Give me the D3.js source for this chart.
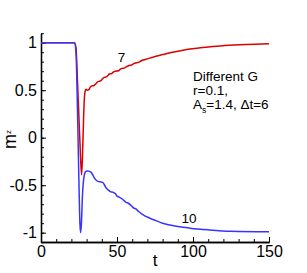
<!DOCTYPE html>
<html>
<head>
<meta charset="utf-8">
<script src="https://cdn.jsdelivr.net/npm/d3@7"></script>
<style>
  body { margin: 0; background: #fff; }
  svg { display: block; font-family: "Liberation Sans", Arial, Helvetica, sans-serif; }
</style>
</head>
<body>
<svg id="chart" width="307" height="273"></svg>
<script>
// data
var tRed  = [0, 22, 23, 24, 25, 26, 26.7, 27.3, 28, 28.7, 29.5, 30.5, 31.5, 32.5, 33.5, 35, 36, 37, 38.5, 39.5, 40.5, 41.5, 43, 44, 45, 46.5, 47.5, 49, 51, 52, 53.5, 55, 56.5, 58, 59.5, 61, 63, 64.5, 66, 68, 70, 72, 75, 80, 85, 90, 98, 105, 110, 121, 135, 150];
var mzRed = [1, 1, 0.95, 0.6, 0.2, -0.2, -0.39, -0.2, 0.2, 0.45, 0.51, 0.5, 0.505, 0.535, 0.545, 0.55, 0.565, 0.585, 0.595, 0.6, 0.62, 0.635, 0.64, 0.655, 0.67, 0.675, 0.69, 0.7, 0.705, 0.72, 0.73, 0.735, 0.75, 0.76, 0.765, 0.78, 0.79, 0.795, 0.81, 0.82, 0.83, 0.84, 0.855, 0.875, 0.895, 0.91, 0.934, 0.948, 0.955, 0.97, 0.982, 0.99];

var tBlue  = [0, 22, 23, 24, 25, 25.6, 26.1, 26.6, 27.3, 28.2, 29.2, 30.3, 31.5, 33, 34, 35, 36.5, 37.5, 39, 40.5, 41.5, 42.5, 43.5, 45, 46, 47.5, 49, 50, 51.5, 53, 54.5, 56, 57.5, 59, 61, 62.5, 64, 66, 68, 70, 72, 76, 80, 85, 90, 98, 110, 125, 150];
var mzBlue = [1, 1, 0.9, 0.3, -0.5, -0.9, -1.0, -0.9, -0.6, -0.42, -0.36, -0.35, -0.352, -0.365, -0.39, -0.42, -0.45, -0.46, -0.465, -0.47, -0.49, -0.52, -0.54, -0.56, -0.57, -0.575, -0.59, -0.615, -0.625, -0.64, -0.66, -0.68, -0.69, -0.71, -0.74, -0.75, -0.775, -0.8, -0.82, -0.835, -0.85, -0.875, -0.9, -0.92, -0.935, -0.952, -0.97, -0.985, -0.99];

var xTicks = [0, 50, 100, 150];
var yTicks = [-1, -0.5, 0, 0.5, 1];
var curveLabels = [{text: "7", t: 50.5, m: 0.8}, {text: "10", t: 92.5, m: -0.895}];
var noteLines = ["Different G", "r=0.1,"];

var svg = d3.select("#chart");

var x = d3.scaleLinear().domain([0, 150]).range([41, 269]);
var y = d3.scaleLinear().domain([-1.1, 1.1]).range([242.2, 33.2]);

// minor ticks first, then major axis on top
svg.append("g")
    .attr("transform", "translate(0,242)")
    .call(d3.axisBottom(x).tickValues(d3.range(0, 151, 10)).tickSize(-3).tickSizeOuter(0).tickFormat(""));
svg.append("g")
    .attr("transform", "translate(41,0)")
    .call(d3.axisLeft(y).tickValues(d3.range(-11, 12).map(function(d) { return d / 10; })).tickSize(-3).tickSizeOuter(0).tickFormat(""));

var xAxis = svg.append("g")
    .attr("transform", "translate(0,242)")
    .call(d3.axisBottom(x).tickValues(xTicks).tickSize(-5).tickSizeOuter(0).tickPadding(4).tickFormat(d3.format("d")));
var yAxis = svg.append("g")
    .attr("transform", "translate(41,0)")
    .call(d3.axisLeft(y).tickValues(yTicks).tickSize(-5).tickSizeOuter(0).tickPadding(4).tickFormat(function(d) { return d; }));

svg.selectAll(".domain").attr("stroke", "#000").attr("stroke-width", 1.3);
svg.selectAll(".tick line").attr("stroke", "#000").attr("stroke-width", 1);
svg.selectAll(".tick text").attr("font-size", 16).attr("font-family", "Liberation Sans, Arial, sans-serif").attr("fill", "#000");

var line = d3.line()
    .x(function(d) { return x(d[0]); })
    .y(function(d) { return y(d[1]); })
    .curve(d3.curveMonotoneX);

svg.append("path")
    .datum(d3.zip(tRed, mzRed))
    .attr("d", line)
    .attr("fill", "none")
    .attr("stroke", "#dd0000")
    .attr("stroke-width", 1.5);

svg.append("path")
    .datum(d3.zip(tBlue, mzBlue))
    .attr("d", line)
    .attr("fill", "none")
    .attr("stroke", "#3535ff")
    .attr("stroke-width", 1.5);

// curve labels
svg.selectAll(".clabel")
    .data(curveLabels)
    .enter().append("text")
    .attr("class", "clabel")
    .attr("x", function(d) { return x(d.t); })
    .attr("y", function(d) { return y(d.m); })
    .attr("font-size", 13.5)
    .text(function(d) { return d.text; });

// annotation
var note = svg.append("text").attr("x", 193).attr("font-size", 13.5);
note.selectAll("tspan.l")
    .data(noteLines)
    .enter().append("tspan")
    .attr("x", 193)
    .attr("y", function(d, i) { return 80.5 + i * 14.3; })
    .text(function(d) { return d; });
var last = svg.append("text").attr("x", 193).attr("y", 109.2).attr("font-size", 13.5);
last.append("tspan").text("A");
last.append("tspan").attr("font-size", 8.5).attr("dy", 3.5).text("s");
last.append("tspan").attr("dy", -3.5).text("=1.4, \u0394t=6");

// axis titles
svg.append("text")
    .attr("x", x(75))
    .attr("y", 265.5)
    .attr("text-anchor", "middle")
    .attr("font-size", 17)
    .text("t");

var yt = svg.append("text")
    .attr("transform", "translate(16,149) rotate(-90)")
    .attr("font-size", 18);
yt.append("tspan").text("m");
yt.append("tspan").attr("font-size", 8).attr("dy", -5).text("z");
</script>
</body>
</html>
